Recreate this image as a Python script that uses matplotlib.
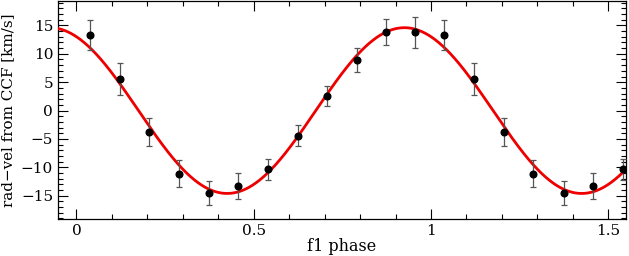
import matplotlib
matplotlib.use("Agg")
import matplotlib.pyplot as plt
import numpy as np
from matplotlib.ticker import MultipleLocator

# folded radial velocities (one cycle, repeated +1 for phase < 0.55)
phase = [0.0375, 0.122, 0.206, 0.289, 0.374, 0.457, 0.541, 0.625, 0.707, 0.791, 0.874, 0.956]
rv = [13.3, 5.6, -3.75, -11.1, -14.5, -13.25, -10.35, -4.4, 2.55, 8.9, 13.8, 13.8]
rv_err = [2.7, 2.8, 2.5, 2.45, 2.15, 2.3, 1.85, 1.9, 1.75, 2.05, 2.3, 2.75]

# sine fit parameters
amp = 14.6
phase_max = 0.925
offset = 0.0

plt.rcParams['font.family'] = ['DejaVu Serif']
plt.rcParams['mathtext.fontset'] = 'dejavuserif'

fig = plt.figure(figsize=(6.29, 2.56), dpi=100)
ax = fig.add_axes([58/629, 37/256, 568/629, 218/256])

ph = np.array(phase)
v = np.array(rv)
e = np.array(rv_err)
m = ph + 1 < 1.56
ph_all = np.concatenate([ph, ph[m] + 1])
v_all = np.concatenate([v, v[m]])
e_all = np.concatenate([e, e[m]])

x = np.linspace(-0.1, 1.6, 600)
ax.plot(x, offset + amp * np.cos(2 * np.pi * (x - phase_max)), color='#ee0000', lw=2.0, zorder=3)
ax.errorbar(ph_all, v_all, yerr=e_all, fmt='o', color='black', ms=4.8,
            ecolor='#555555', elinewidth=0.9, capsize=2.5, capthick=0.9, zorder=4)

ax.set_xlim(-0.052, 1.55)
ax.set_ylim(-19.1, 19.3)
ax.xaxis.set_major_locator(MultipleLocator(0.5))
ax.xaxis.set_minor_locator(MultipleLocator(0.1))
ax.yaxis.set_major_locator(MultipleLocator(5))
ax.yaxis.set_minor_locator(MultipleLocator(1))
ax.set_xticks([0, 0.5, 1, 1.5], ['0', '0.5', '1', '1.5'])
ax.tick_params(which='both', direction='in', top=True, right=True, labelsize=11, width=0.8)
ax.tick_params(which='major', length=7, pad=3.5)
ax.tick_params(which='minor', length=3.5)
for s in ax.spines.values():
    s.set_linewidth(0.9)

ax.set_xlabel('f1 phase', fontsize=11.5, labelpad=0)
ax.set_ylabel('rad\u2212vel from CCF [km/s]', fontsize=10.9)
ax.yaxis.set_label_coords(-0.076, 0.5)

fig.savefig('out.png', dpi=100)
